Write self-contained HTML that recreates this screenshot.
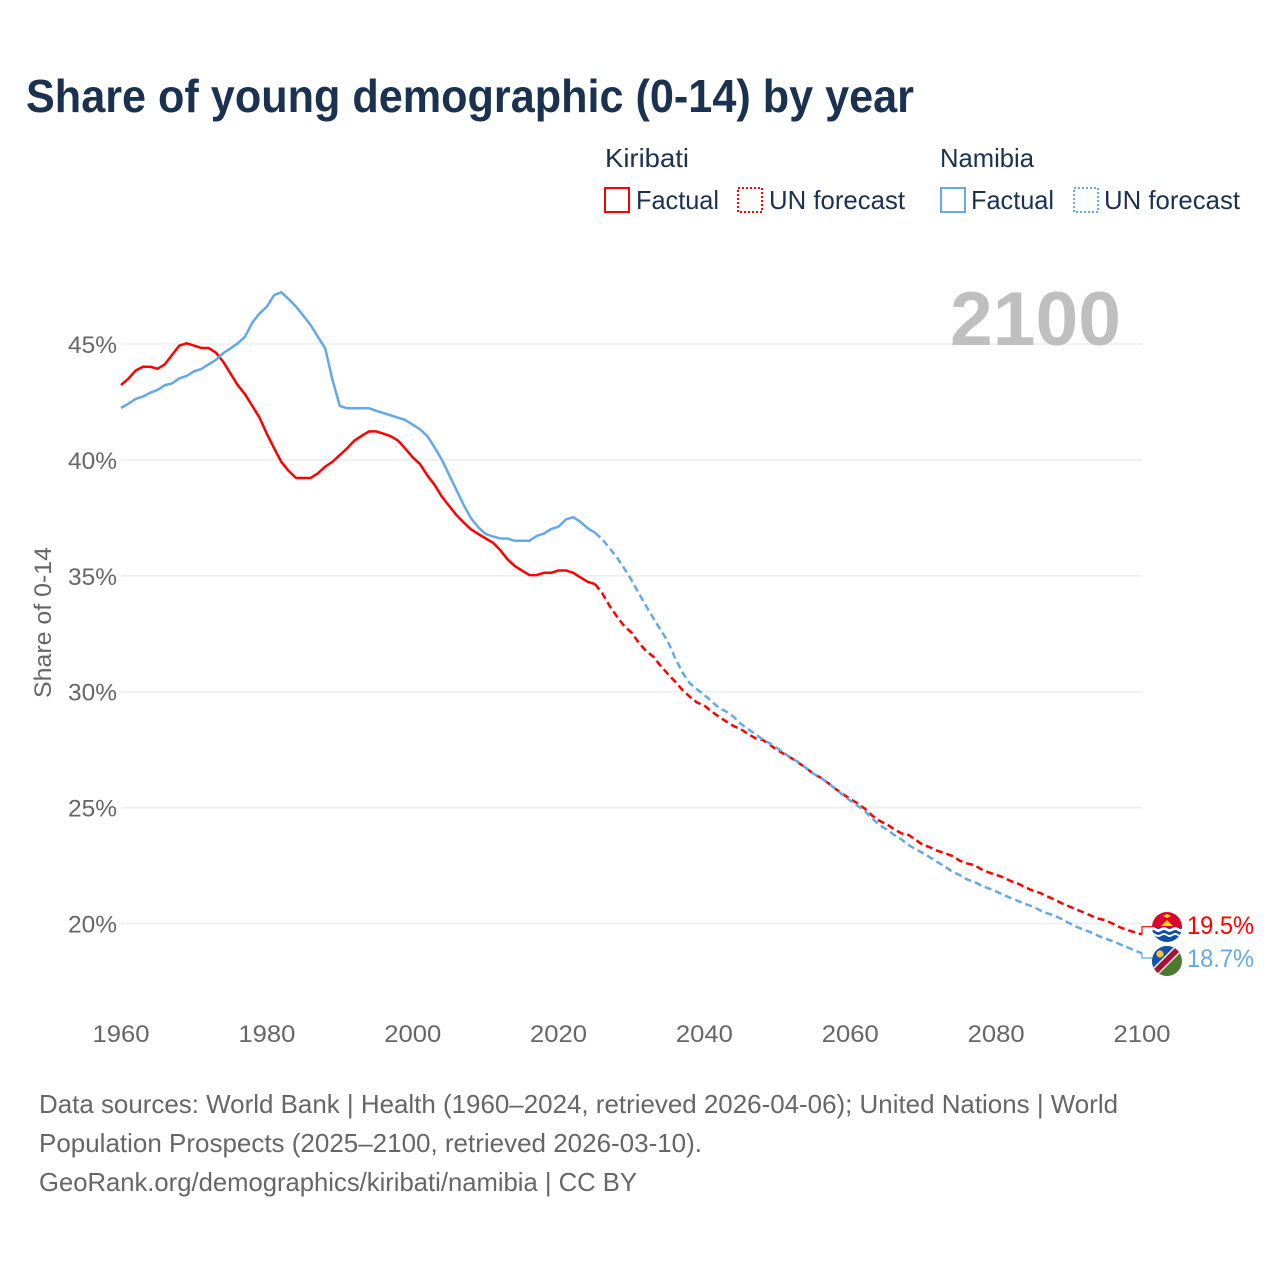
<!DOCTYPE html>
<html lang="en">
<head>
<meta charset="utf-8">
<title>Share of young demographic (0-14) by year</title>
<style>
  html, body { margin: 0; padding: 0; background: #ffffff; }
  svg { display: block; font-family: "Liberation Sans", sans-serif; }
</style>
</head>
<body>
<svg id="chart" xmlns="http://www.w3.org/2000/svg" width="1280" height="1280" viewBox="0 0 1280 1280">
  <rect x="0" y="0" width="1280" height="1280" fill="#ffffff"/>
  <text x="26" y="112" font-size="46" font-weight="700" fill="#1a3150" textLength="888" lengthAdjust="spacingAndGlyphs">Share of young demographic (0-14) by year</text>

  <g font-size="26" fill="#1a3150">
    <text x="605" y="167" textLength="84" lengthAdjust="spacingAndGlyphs">Kiribati</text>
    <text x="940" y="167" textLength="94" lengthAdjust="spacingAndGlyphs">Namibia</text>
    <g>
      <rect x="605" y="188" width="24" height="24" fill="none" stroke="#ff0000" stroke-width="2"/>
      <text x="636" y="209" textLength="83" lengthAdjust="spacingAndGlyphs">Factual</text>
    </g>
    <g>
      <rect x="738" y="188" width="24" height="24" fill="none" stroke="#ff0000" stroke-width="2" stroke-dasharray="2 2"/>
      <text x="769" y="209" textLength="136" lengthAdjust="spacingAndGlyphs">UN forecast</text>
    </g>
    <g>
      <rect x="941" y="188" width="24" height="24" fill="none" stroke="#62a8ea" stroke-width="2"/>
      <text x="971" y="209" textLength="83" lengthAdjust="spacingAndGlyphs">Factual</text>
    </g>
    <g>
      <rect x="1074" y="188" width="24" height="24" fill="none" stroke="#62a8ea" stroke-width="2" stroke-dasharray="2 2"/>
      <text x="1104" y="209" textLength="136" lengthAdjust="spacingAndGlyphs">UN forecast</text>
    </g>
  </g>

  <g id="grid"></g>
  <text x="950" y="345" font-size="76" font-weight="700" fill="#bfbfbf" textLength="171" lengthAdjust="spacingAndGlyphs">2100</text>
  <g id="y-ticks" font-size="24.5" fill="#666666" text-anchor="end"></g>
  <g id="x-ticks" font-size="24.5" fill="#666666" text-anchor="middle"></g>
  <text transform="translate(51 622.5) rotate(-90)" font-size="24.5" fill="#666666" text-anchor="middle" textLength="151" lengthAdjust="spacingAndGlyphs">Share of 0-14</text>

  <g id="series"></g>

  <defs>
    <clipPath id="clip-kiribati"><circle cx="1167" cy="927" r="15"/></clipPath>
    <clipPath id="clip-namibia"><circle cx="1167" cy="961" r="15"/></clipPath>
  </defs>
  <g clip-path="url(#clip-kiribati)">
    <rect x="1150" y="910" width="34" height="18" fill="#d8062f"/>
    <rect x="1150" y="928" width="34" height="16" fill="#0f4fa8"/>
    <path d="M1161 926 L1167 920 L1173 926 Z" fill="#fcd116"/>
    <path d="M1163 916 L1167 914 L1171 916 L1167 918 Z" fill="#fcd116"/>
    <path d="M1150 928 q3 -2 5.6 0 t5.6 0 t5.6 0 t5.6 0 t5.6 0 t5.6 0 v3 q-3 2 -5.6 0 t-5.6 0 t-5.6 0 t-5.6 0 t-5.6 0 t-5.6 0 z" fill="#ffffff"/>
    <path d="M1150 934 q3 -2 5.6 0 t5.6 0 t5.6 0 t5.6 0 t5.6 0 t5.6 0 v2 q-3 2 -5.6 0 t-5.6 0 t-5.6 0 t-5.6 0 t-5.6 0 t-5.6 0 z" fill="#ffffff"/>
  </g>
  <g clip-path="url(#clip-namibia)">
    <rect x="1150" y="944" width="34" height="34" fill="#4a7a2e"/>
    <path d="M1150 944 H1186 L1152 978 Z" fill="#0f52b0"/>
    <path d="M1147 974 L1180 941 L1186 947 L1153 980 Z" fill="#ffffff"/>
    <path d="M1149 974 L1180 943 L1184 947 L1153 978 Z" fill="#a8122f"/>
    <circle cx="1160" cy="954" r="3.6" fill="#fcc52e"/>
  </g>
  <text x="1187" y="934" font-size="25" fill="#ff0000" textLength="67" lengthAdjust="spacingAndGlyphs">19.5%</text>
  <text x="1187" y="967" font-size="25" fill="#62a8ea" textLength="67" lengthAdjust="spacingAndGlyphs">18.7%</text>

  <g font-size="26" fill="#666666">
    <text x="39" y="1113" textLength="1079" lengthAdjust="spacingAndGlyphs">Data sources: World Bank | Health (1960–2024, retrieved 2026-04-06); United Nations | World</text>
    <text x="39" y="1152" textLength="663" lengthAdjust="spacingAndGlyphs">Population Prospects (2025–2100, retrieved 2026-03-10).</text>
    <text x="39" y="1191" textLength="598" lengthAdjust="spacingAndGlyphs">GeoRank.org/demographics/kiribati/namibia | CC BY</text>
  </g>
</svg>

<script>
const factualYears = [1960,1961,1962,1963,1964,1965,1966,1967,1968,1969,1970,1971,1972,1973,1974,1975,1976,1977,1978,1979,1980,1981,1982,1983,1984,1985,1986,1987,1988,1989,1990,1991,1992,1993,1994,1995,1996,1997,1998,1999,2000,2001,2002,2003,2004,2005,2006,2007,2008,2009,2010,2011,2012,2013,2014,2015,2016,2017,2018,2019,2020,2021,2022,2023,2024,2025];
const forecastYears = [2025,2026,2027,2028,2029,2030,2031,2032,2033,2034,2035,2036,2037,2038,2039,2040,2041,2042,2043,2044,2045,2046,2047,2048,2049,2050,2051,2052,2053,2054,2055,2056,2057,2058,2059,2060,2061,2062,2063,2064,2065,2066,2067,2068,2069,2070,2071,2072,2073,2074,2075,2076,2077,2078,2079,2080,2081,2082,2083,2084,2085,2086,2087,2088,2089,2090,2091,2092,2093,2094,2095,2096,2097,2098,2099,2100];
const kiribatiFactual = [43.23,43.5,43.85,44.02,44.02,43.93,44.12,44.53,44.93,45.03,44.93,44.83,44.83,44.63,44.24,43.73,43.23,42.83,42.33,41.82,41.12,40.5,39.9,39.52,39.22,39.22,39.22,39.42,39.71,39.92,40.21,40.5,40.83,41.04,41.23,41.23,41.13,41.02,40.83,40.48,40.11,39.82,39.33,38.92,38.41,38.01,37.62,37.3,37.0,36.8,36.61,36.43,36.11,35.71,35.42,35.22,35.03,35.03,35.13,35.13,35.23,35.23,35.13,34.93,34.74,34.64];
const kiribatiForecast = [34.64,34.24,33.7,33.24,32.83,32.55,32.11,31.76,31.51,31.11,30.76,30.43,30.07,29.78,29.53,29.4,29.14,28.92,28.71,28.52,28.38,28.17,27.99,27.92,27.7,27.48,27.3,27.12,26.91,26.69,26.45,26.28,26.05,25.8,25.58,25.37,25.18,24.95,24.65,24.43,24.28,24.07,23.89,23.82,23.6,23.38,23.28,23.13,23.03,22.91,22.71,22.59,22.52,22.33,22.2,22.1,21.99,21.83,21.72,21.56,21.42,21.32,21.17,21.03,20.87,20.74,20.6,20.48,20.34,20.21,20.14,19.99,19.83,19.72,19.62,19.53];
const namibiaFactual = [42.24,42.42,42.63,42.73,42.9,43.02,43.22,43.3,43.52,43.62,43.82,43.92,44.12,44.31,44.6,44.81,45.03,45.31,45.92,46.32,46.61,47.11,47.23,46.93,46.61,46.22,45.82,45.31,44.81,43.45,42.33,42.23,42.23,42.23,42.23,42.12,42.02,41.92,41.82,41.72,41.52,41.32,41.03,40.54,40.0,39.35,38.7,38.05,37.48,37.09,36.8,36.7,36.61,36.61,36.51,36.51,36.51,36.72,36.82,37.02,37.12,37.43,37.53,37.33,37.05,36.86];
const namibiaForecast = [36.86,36.57,36.19,35.8,35.32,34.82,34.24,33.7,33.17,32.66,32.16,31.44,30.82,30.36,30.1,29.86,29.58,29.3,29.14,28.92,28.61,28.38,28.17,27.94,27.77,27.56,27.34,27.12,26.94,26.69,26.45,26.28,26.05,25.8,25.54,25.3,25.08,24.85,24.53,24.25,24.06,23.82,23.63,23.38,23.2,23.03,22.84,22.64,22.45,22.23,22.09,21.9,21.8,21.63,21.51,21.38,21.24,21.1,20.97,20.84,20.74,20.57,20.44,20.34,20.19,20.02,19.86,19.73,19.62,19.47,19.34,19.24,19.1,18.97,18.84,18.71];
const yTickValues = [45,40,35,30,25,20];
const yTickLabels = ["45%","40%","35%","30%","25%","20%"];
const xTickValues = [1960,1980,2000,2020,2040,2060,2080,2100];
const xTickLabels = ["1960","1980","2000","2020","2040","2060","2080","2100"];

const SVG_NS = "http://www.w3.org/2000/svg";
const RED = "#ff0000";
const BLUE = "#62a8ea";

function xScale(year) { return 121 + (year - 1960) * (1021 / 140); }
function yScale(value) { return 344 + (45 - value) * 23.18; }

function pointsFor(years, values) {
  return years.map(function (yr, i) {
    return xScale(yr).toFixed(2) + "," + yScale(values[i]).toFixed(2);
  }).join(" ");
}

function drawSeries(parent, years, values, colour, dash, name) {
  const line = document.createElementNS(SVG_NS, "polyline");
  
  
  line.setAttribute("points", pointsFor(years, values));
  line.setAttribute("fill", "none");
  line.setAttribute("stroke", colour);
  line.setAttribute("stroke-width", "2.5");
  line.setAttribute("stroke-linejoin", "round");
  if (dash) line.setAttribute("stroke-dasharray", dash);
  parent.appendChild(line);
}

function drawConnector(parent, year, value, flagY, colour, name) {
  const line = document.createElementNS(SVG_NS, "polyline");
  const x = xScale(year);
  
  
  line.setAttribute("points", x + "," + yScale(value) + " " + x + "," + flagY + " 1152," + flagY);
  line.setAttribute("fill", "none");
  line.setAttribute("stroke", colour);
  line.setAttribute("stroke-width", "1.2");
  parent.appendChild(line);
}

const gridGroup = document.getElementById("grid");
const yTickGroup = document.getElementById("y-ticks");
yTickValues.forEach(function (v, i) {
  const rule = document.createElementNS(SVG_NS, "line");
  
  
  rule.setAttribute("x1", xScale(1960));
  rule.setAttribute("x2", xScale(2100));
  rule.setAttribute("y1", yScale(v));
  rule.setAttribute("y2", yScale(v));
  rule.setAttribute("stroke", "#eeeeee");
  rule.setAttribute("stroke-width", "1.6");
  gridGroup.appendChild(rule);

  const label = document.createElementNS(SVG_NS, "text");
  
  
  label.setAttribute("x", 117);
  label.setAttribute("y", yScale(v) + 9);
  label.setAttribute("textLength", 49);
  label.setAttribute("lengthAdjust", "spacingAndGlyphs");
  label.textContent = yTickLabels[i];
  yTickGroup.appendChild(label);
});

const xTickGroup = document.getElementById("x-ticks");
xTickValues.forEach(function (yr, i) {
  const label = document.createElementNS(SVG_NS, "text");
  
  
  label.setAttribute("x", xScale(yr));
  label.setAttribute("y", 1042);
  label.setAttribute("textLength", 57);
  label.setAttribute("lengthAdjust", "spacingAndGlyphs");
  label.textContent = xTickLabels[i];
  xTickGroup.appendChild(label);
});

const seriesGroup = document.getElementById("series");
drawSeries(seriesGroup, factualYears, kiribatiFactual, RED, null, "kiribati-factual-line");
drawSeries(seriesGroup, forecastYears, kiribatiForecast, RED, "7 4", "kiribati-forecast-line");
drawSeries(seriesGroup, factualYears, namibiaFactual, BLUE, null, "namibia-factual-line");
drawSeries(seriesGroup, forecastYears, namibiaForecast, BLUE, "7 4", "namibia-forecast-line");
drawConnector(seriesGroup, 2100, kiribatiForecast[kiribatiForecast.length - 1], 926.7, RED, "kiribati-end-connector");
drawConnector(seriesGroup, 2100, namibiaForecast[namibiaForecast.length - 1], 958, BLUE, "namibia-end-connector");
</script>
</body>
</html>
